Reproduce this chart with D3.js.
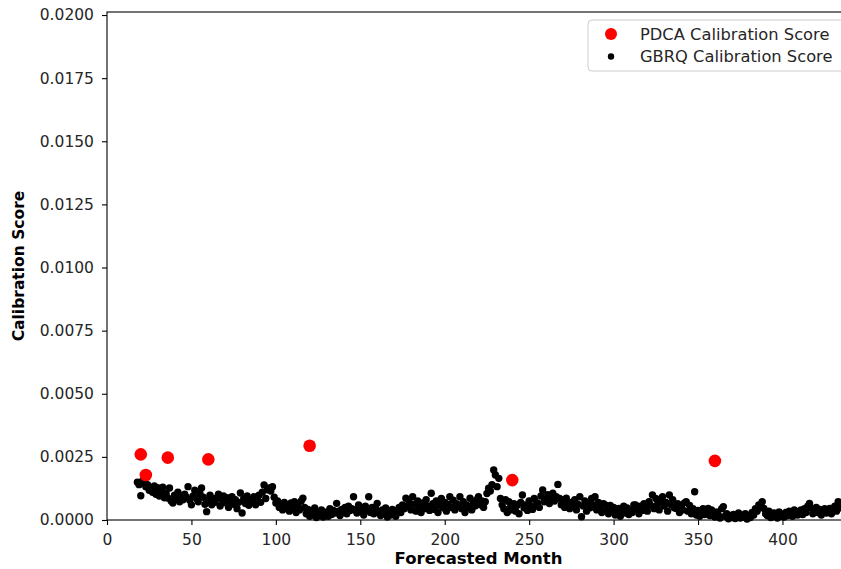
<!DOCTYPE html>
<html>
<head>
<meta charset="utf-8">
<script src="https://cdn.jsdelivr.net/npm/d3@7"></script>
<style>
  html, body { margin: 0; padding: 0; background: #fff; }
  svg { display: block; font-family: "DejaVu Sans", sans-serif; }
</style>
</head>
<body>
<svg id="chart" width="841" height="569"></svg>
<script>
// PDCA calibration scores at selected forecast horizons
const pdcaMonths = [20, 23, 36, 60, 120, 240, 360];
const pdcaScores = [0.00260, 0.00178, 0.00247, 0.00240, 0.00294, 0.00158, 0.00234];

// GBRQ calibration scores, one per forecasted month starting at month 18
const gbrqStartMonth = 18;
const gbrqScores = [
  0.00150, 0.00140,
  0.00096, 0.00155, 0.00148, 0.00132, 0.00140, 0.00118, 0.00125, 0.00110, 0.00135, 0.00102,
  0.00128, 0.00095, 0.00115, 0.00130, 0.00088, 0.00105, 0.00087, 0.00127, 0.00075, 0.00067,
  0.00098, 0.00085, 0.00110, 0.00072, 0.00095, 0.00080, 0.00102, 0.00090, 0.00132, 0.00078,
  0.00060, 0.00095, 0.00118, 0.00085, 0.00072, 0.00105, 0.00127, 0.00090, 0.00062, 0.00033,
  0.00078, 0.00098, 0.00060, 0.00085, 0.00070, 0.00087, 0.00102, 0.00055, 0.00080, 0.00095,
  0.00068, 0.00088, 0.00050, 0.00075, 0.00092, 0.00062, 0.00080, 0.00045, 0.00070, 0.00107,
  0.00028, 0.00085, 0.00065, 0.00095, 0.00058, 0.00078, 0.00072, 0.00092, 0.00060, 0.00082,
  0.00098, 0.00070, 0.00110, 0.00139, 0.00085, 0.00120, 0.00127, 0.00115, 0.00132, 0.00090,
  0.00067, 0.00075, 0.00050, 0.00062, 0.00040, 0.00070, 0.00048, 0.00055, 0.00035, 0.00068,
  0.00045, 0.00072, 0.00030, 0.00060, 0.00040, 0.00075, 0.00086, 0.00050, 0.00025, 0.00042,
  0.00015, 0.00035, 0.00020, 0.00048, 0.00010, 0.00030, 0.00018, 0.00040, 0.00012, 0.00025,
  0.00032, 0.00015, 0.00045, 0.00022, 0.00038, 0.00028, 0.00066, 0.00035, 0.00018, 0.00042,
  0.00030, 0.00050, 0.00025, 0.00055, 0.00038, 0.00045, 0.00092, 0.00040, 0.00028, 0.00060,
  0.00035, 0.00048, 0.00020, 0.00055, 0.00042, 0.00092, 0.00030, 0.00050, 0.00025, 0.00045,
  0.00066, 0.00032, 0.00018, 0.00040, 0.00025, 0.00048, 0.00012, 0.00035, 0.00020, 0.00042,
  0.00028, 0.00015, 0.00038, 0.00050, 0.00030, 0.00060, 0.00045, 0.00086, 0.00055, 0.00070,
  0.00040, 0.00092, 0.00062, 0.00035, 0.00075, 0.00050, 0.00030, 0.00068, 0.00045, 0.00080,
  0.00055, 0.00038, 0.00106, 0.00065, 0.00042, 0.00075, 0.00030, 0.00058, 0.00085, 0.00048,
  0.00070, 0.00035, 0.00062, 0.00092, 0.00050, 0.00078, 0.00040, 0.00065, 0.00055, 0.00092,
  0.00045, 0.00072, 0.00030, 0.00060, 0.00050, 0.00086, 0.00040, 0.00068, 0.00055, 0.00080,
  0.00092, 0.00060, 0.00075, 0.00050, 0.00072, 0.00105, 0.00126, 0.00115, 0.00140, 0.00198,
  0.00178, 0.00132, 0.00165, 0.00085, 0.00060, 0.00045, 0.00080, 0.00030, 0.00072, 0.00050,
  0.00040, 0.00065, 0.00035, 0.00058, 0.00025, 0.00070, 0.00099, 0.00048, 0.00060, 0.00038,
  0.00075, 0.00055, 0.00042, 0.00085, 0.00060, 0.00068, 0.00050, 0.00095, 0.00119, 0.00072,
  0.00080, 0.00100, 0.00065, 0.00088, 0.00106, 0.00075, 0.00092, 0.00141, 0.00085, 0.00060,
  0.00078, 0.00050, 0.00086, 0.00065, 0.00045, 0.00070, 0.00058, 0.00080, 0.00040, 0.00062,
  0.00092, 0.00013, 0.00055, 0.00075, 0.00035, 0.00068, 0.00048, 0.00085, 0.00060, 0.00092,
  0.00040, 0.00070, 0.00052, 0.00030, 0.00065, 0.00060, 0.00045, 0.00025, 0.00058, 0.00038,
  0.00050, 0.00020, 0.00042, 0.00046, 0.00015, 0.00035, 0.00055, 0.00028, 0.00048, 0.00022,
  0.00040, 0.00030, 0.00060, 0.00060, 0.00045, 0.00025, 0.00055, 0.00038, 0.00065, 0.00050,
  0.00035, 0.00072, 0.00058, 0.00099, 0.00045, 0.00085, 0.00062, 0.00040, 0.00078, 0.00092,
  0.00055, 0.00070, 0.00035, 0.00099, 0.00060, 0.00080, 0.00048, 0.00046, 0.00065, 0.00030,
  0.00052, 0.00040, 0.00068, 0.00072, 0.00035, 0.00058, 0.00025, 0.00045, 0.00112, 0.00020,
  0.00038, 0.00015, 0.00030, 0.00045, 0.00022, 0.00035, 0.00046, 0.00018, 0.00040, 0.00028,
  0.00012, 0.00032, 0.00020, 0.00008, 0.00045, 0.00053, 0.00015, 0.00025, 0.00005, 0.00018,
  0.00010, 0.00022, 0.00006, 0.00015, 0.00028, 0.00008, 0.00018, 0.00012, 0.00025, 0.00004,
  0.00015, 0.00010, 0.00030, 0.00020, 0.00045, 0.00035, 0.00060, 0.00050, 0.00072, 0.00046,
  0.00025, 0.00018, 0.00035, 0.00010, 0.00013, 0.00028, 0.00020, 0.00008, 0.00032, 0.00015,
  0.00022, 0.00012, 0.00030, 0.00018, 0.00035, 0.00025, 0.00015, 0.00040, 0.00028, 0.00020,
  0.00035, 0.00040, 0.00022, 0.00045, 0.00030, 0.00055, 0.00066, 0.00048, 0.00025, 0.00038,
  0.00050, 0.00030, 0.00042, 0.00020, 0.00035, 0.00045, 0.00028, 0.00038, 0.00046, 0.00025,
  0.00040, 0.00055, 0.00035, 0.00072, 0.00048
];

// Axis ticks
const xTicks = [0, 50, 100, 150, 200, 250, 300, 350, 400];
const yTicks = [0, 0.0025, 0.005, 0.0075, 0.01, 0.0125, 0.015, 0.0175, 0.02];

const seriesNames = ["PDCA Calibration Score", "GBRQ Calibration Score"];
const seriesColors = ["#ff0000", "#000000"];

const pdca = pdcaMonths.map((m, i) => ({ month: m, score: pdcaScores[i] }));
const gbrq = gbrqScores.map((s, i) => ({ month: gbrqStartMonth + i, score: s }));

const svg = d3.select("#chart");
const plot = { left: 107, right: 850, top: 12, bottom: 520 };

const x = d3.scaleLinear().domain([0, 440]).range([plot.left, plot.right]);
const y = d3.scaleLinear().domain([0, 0.02012]).range([plot.bottom, plot.top]);

// Points
const marks = svg.append("g");
marks.selectAll("circle.gbrq")
  .data(gbrq).join("circle")
  .attr("class", "gbrq")
  .attr("cx", d => x(d.month))
  .attr("cy", d => y(d.score))
  .attr("r", 3.7)
  .attr("fill", seriesColors[1]);

marks.selectAll("circle.pdca")
  .data(pdca).join("circle")
  .attr("class", "pdca")
  .attr("cx", d => x(d.month))
  .attr("cy", d => y(d.score))
  .attr("r", 6.3)
  .attr("fill", seriesColors[0]);

// Axes
const xAxis = svg.append("g")
  .attr("transform", `translate(0,${plot.bottom})`)
  .call(d3.axisBottom(x).tickValues(xTicks).tickSize(5).tickPadding(5).tickFormat(d3.format("d")));
const yAxis = svg.append("g")
  .attr("transform", `translate(${plot.left},0)`)
  .call(d3.axisLeft(y).tickValues(yTicks).tickSize(5).tickPadding(8).tickFormat(d3.format(".4f")));

[xAxis, yAxis].forEach(a => {
  a.select(".domain").remove();
  a.selectAll(".tick line").attr("stroke", "#000").attr("stroke-width", 1.1);
  a.selectAll(".tick text").attr("fill", "#262626").style("font-size", "15.5px")
    .style("font-family", "DejaVu Sans, sans-serif");
});
xAxis.selectAll(".tick text").attr("dy", "0.95em");

// Frame
svg.append("rect")
  .attr("x", plot.left).attr("y", plot.top)
  .attr("width", plot.right - plot.left).attr("height", plot.bottom - plot.top)
  .attr("fill", "none").attr("stroke", "#000").attr("stroke-width", 1.1);

// Axis titles
svg.append("text")
  .attr("x", (plot.left + plot.right) / 2).attr("y", 564)
  .attr("text-anchor", "middle")
  .style("font-size", "16.5px").style("font-weight", "bold").attr("fill", "#000")
  .text("Forecasted Month");

svg.append("text")
  .attr("transform", `translate(24,${(plot.top + plot.bottom) / 2}) rotate(-90)`)
  .attr("text-anchor", "middle")
  .style("font-size", "15.5px").style("font-weight", "bold").attr("fill", "#000")
  .text("Calibration Score");

// Legend
const legend = svg.append("g");
legend.append("rect")
  .attr("x", 588).attr("y", 20).attr("width", 262).attr("height", 51)
  .attr("rx", 4).attr("fill", "#fff").attr("fill-opacity", 0.8)
  .attr("stroke", "#cccccc").attr("stroke-width", 1);
const legendRows = [
  { name: seriesNames[0], color: seriesColors[0], r: 6, cy: 34 },
  { name: seriesNames[1], color: seriesColors[1], r: 3.2, cy: 56.5 }
];
legendRows.forEach(row => {
  legend.append("circle").attr("cx", 611).attr("cy", row.cy).attr("r", row.r).attr("fill", row.color);
  legend.append("text").attr("x", 640).attr("y", row.cy).attr("dy", "0.35em")
    .style("font-size", "16.3px").attr("fill", "#262626").text(row.name);
});
</script>
</body>
</html>
